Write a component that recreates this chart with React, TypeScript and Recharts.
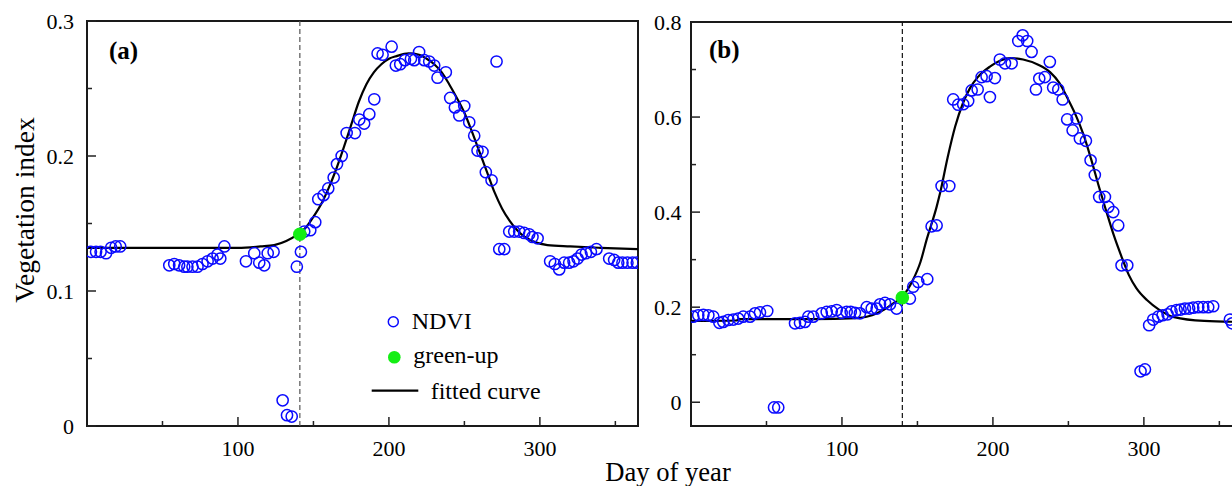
import React from 'react'
import {
  ComposedChart,
  Scatter,
  Line,
  XAxis,
  YAxis,
  ReferenceLine,
  ReferenceArea,
  Legend,
} from 'recharts'

// ---- panel (a) ----
const ndviA: [number, number][] = [
  [2.6, 0.129], [6, 0.129], [9, 0.129], [12.6, 0.128], [16, 0.132], [19, 0.133], [22, 0.133],
  [54.5, 0.119], [57.8, 0.12], [61, 0.119], [64.4, 0.118], [66.5, 0.118], [69.9, 0.118], [73.2, 0.118],
  [76.5, 0.12], [79.9, 0.122], [83.2, 0.124], [86.5, 0.127], [88.3, 0.124], [91, 0.133],
  [105.3, 0.122], [110.8, 0.128], [114.1, 0.121], [117.4, 0.119], [119.7, 0.128], [123.6, 0.129],
  [129.6, 0.019], [132.5, 0.008], [135.6, 0.007], [139, 0.118], [141.7, 0.129],
  [143.9, 0.144], [147.9, 0.145], [151.2, 0.151], [153.2, 0.168], [156.7, 0.171], [159.8, 0.176],
  [163.4, 0.184], [165.6, 0.194], [168.7, 0.2], [172, 0.217], [177.5, 0.217], [180.4, 0.227],
  [183.6, 0.224], [187, 0.231], [190.3, 0.242], [192.5, 0.276], [195.8, 0.275], [201.8, 0.281],
  [204.6, 0.267], [207.5, 0.268], [210.6, 0.271], [214.6, 0.272], [216.8, 0.271], [220, 0.277],
  [223.4, 0.271], [226.7, 0.27], [230, 0.267], [232.2, 0.258], [237.7, 0.262], [240.6, 0.243],
  [243.7, 0.236], [246.6, 0.23], [249.9, 0.237], [253.2, 0.225], [256.5, 0.215], [258.7, 0.204],
  [262, 0.203], [264.2, 0.188], [268, 0.182], [271.3, 0.27], [273.1, 0.131], [276.4, 0.131],
  [279.7, 0.144], [283, 0.144], [286.3, 0.144], [289.6, 0.143], [292.9, 0.142], [295.1, 0.14],
  [298.5, 0.139], [306.8, 0.122], [309.9, 0.12], [312.8, 0.116], [316.1, 0.121], [319.4, 0.121],
  [322.3, 0.122], [325, 0.124], [327.6, 0.127], [330.5, 0.128], [333.8, 0.129], [337.5, 0.131],
  [345.9, 0.124], [349.2, 0.123], [351.9, 0.121], [354.7, 0.121], [358, 0.121], [361.4, 0.121],
  [364.2, 0.121],
]
const fitA: [number, number][] = [
  [0, 0.132], [50, 0.132], [100, 0.132], [115, 0.133], [124, 0.134], [132, 0.137], [139.5, 0.142],
  [145, 0.147], [150, 0.155], [155, 0.164], [160, 0.176], [165, 0.19], [170, 0.206], [175, 0.223],
  [180, 0.24], [185, 0.253], [190, 0.262], [195, 0.268], [200, 0.272], [205, 0.274], [213, 0.276],
  [220, 0.275], [225, 0.272], [230, 0.268], [235, 0.262], [240, 0.253], [245, 0.243], [250, 0.232],
  [255, 0.218], [260, 0.203], [265, 0.188], [270, 0.173], [275, 0.161], [280, 0.152], [285, 0.145],
  [290, 0.14], [295, 0.137], [305, 0.134], [320, 0.133], [340, 0.132], [365, 0.131],
]
const greenUpA: [number, number][] = [[141, 0.142]]

// ---- panel (b) ----
const ndviB: [number, number][] = [
  [1.5, 0.18], [4.8, 0.183], [8.2, 0.184], [11.5, 0.183], [14.8, 0.18], [18.8, 0.167], [21.4, 0.169],
  [24.7, 0.173], [28, 0.174], [31.3, 0.176], [34.6, 0.18], [39.1, 0.18], [42.4, 0.187], [45.7, 0.189],
  [50.5, 0.192], [55, -0.011], [57.8, -0.011], [68.9, 0.166], [72.2, 0.167], [75.5, 0.169],
  [77.7, 0.18], [81, 0.18], [86.6, 0.187], [89.9, 0.19], [93.2, 0.191], [96.5, 0.194], [99.8, 0.188],
  [103.1, 0.19], [105.8, 0.19], [108.6, 0.188], [111.9, 0.187], [116.4, 0.2], [119.7, 0.197],
  [123, 0.197], [125.2, 0.206], [128.5, 0.209], [131.8, 0.206], [136.2, 0.197], [145, 0.218],
  [147.2, 0.243], [150.5, 0.253], [156.5, 0.259], [159.4, 0.37], [162.7, 0.372], [166, 0.455],
  [171.1, 0.455], [173.7, 0.637], [177, 0.626], [180.3, 0.627], [183.6, 0.634], [185.9, 0.656],
  [189.9, 0.658], [192.5, 0.684], [195.8, 0.686], [198, 0.642], [201.3, 0.682], [204.6, 0.721],
  [208, 0.713], [212.4, 0.713], [216.8, 0.76], [219.7, 0.772], [222.7, 0.76], [225.6, 0.737],
  [228.5, 0.658], [230.7, 0.681], [234.4, 0.684], [237.7, 0.716], [239.9, 0.662], [243.3, 0.658],
  [246.2, 0.637], [249.2, 0.595], [252.8, 0.572], [255.4, 0.597], [257.6, 0.555], [261.6, 0.55],
  [264.7, 0.509], [267.5, 0.478], [270.4, 0.432], [274.2, 0.432], [276.4, 0.411], [279.7, 0.4],
  [283, 0.372], [285.2, 0.288], [289, 0.288], [297.8, 0.065], [300.7, 0.069], [303.5, 0.162],
  [306.2, 0.174], [309.5, 0.18], [312.4, 0.183], [315.7, 0.185], [318.3, 0.191], [321.7, 0.194],
  [324.3, 0.195], [327.2, 0.197], [330, 0.197], [332.7, 0.199], [336, 0.2], [339.3, 0.2],
  [342.6, 0.2], [345.9, 0.202], [357, 0.174], [358.5, 0.166],
]
const fitB: [number, number][] = [
  [0, 0.171], [30, 0.172], [32, 0.175], [80, 0.175], [110, 0.177], [120, 0.183], [128, 0.195],
  [134, 0.208], [140, 0.222], [147, 0.257], [152, 0.295], [156, 0.341], [162.7, 0.411], [165, 0.44],
  [170, 0.515], [175, 0.58], [180, 0.628], [185, 0.662], [190, 0.684], [198, 0.706], [205, 0.719],
  [212, 0.724], [220, 0.721], [230, 0.71], [238, 0.694], [244, 0.672], [250, 0.636], [255, 0.603],
  [260, 0.563], [265, 0.512], [270, 0.456], [275, 0.403], [280, 0.352], [285, 0.308], [290, 0.268],
  [295, 0.24], [302, 0.215], [310, 0.195], [320, 0.179], [340, 0.171], [365, 0.169],
]
const greenUpB: [number, number][] = [[140, 0.22]]

// ---- ticks (labelled ones, plus short minor ticks) ----
const xMajor = [100, 200, 300]
const xMinor = [50, 150, 250, 350]
const yMajorA = [0, 0.1, 0.2, 0.3]
const yMinorA = [0.05, 0.15, 0.25]
const yMajorB = [0, 0.2, 0.4, 0.6, 0.8]
const yMinorB = [0.1, 0.3, 0.5, 0.7]

const FONT = '"Liberation Serif", "Times New Roman", serif'
const toRows = (arr: [number, number][]) => arr.map(([day, v]) => ({ day, v }))
const isIn = (list: number[], v: number) => list.some((m) => Math.abs(m - v) < 1e-9)

const OpenCircle = (p: any) => (
  <circle cx={p.cx} cy={p.cy} r={5.6} fill="none" stroke="#0a0aff" strokeWidth={1.5} />
)
const GreenDot = (p: any) => <circle cx={p.cx} cy={p.cy} r={6.8} fill="#14ee14" />

const LegendBox = () => (
  <svg width={200} height={110} style={{ display: 'block', fontFamily: FONT, fontSize: 24 }}>
    <circle cx={33.3} cy={21.7} r={5} fill="none" stroke="#0a0aff" strokeWidth={1.5} />
    <text x={51.7} y={29} style={{ fontFamily: FONT }}>NDVI</text>
    <circle cx={34.3} cy={57.3} r={6.3} fill="#14ee14" />
    <text x={53.3} y={63} style={{ fontFamily: FONT }}>green-up</text>
    <line x1={11.7} x2={58.3} y1={90.7} y2={90.7} stroke="#000" strokeWidth={2.2} />
    <text x={70.7} y={99} style={{ fontFamily: FONT }}>fitted curve</text>
  </svg>
)

const XTick = (props: any) => {
  const { x, y, payload } = props
  const major = isIn(xMajor, payload.value)
  return (
    <g>
      <line x1={x} x2={x} y1={y} y2={y - (major ? 9 : 5)} stroke="#222" strokeWidth={1.5} />
      {major && (
        <text x={x} y={y + 30} textAnchor="middle" fill="#000" style={{ fontFamily: FONT, fontSize: 22 }}>
          {payload.value}
        </text>
      )}
    </g>
  )
}

const makeYTick = (majors: number[], gap: number) => (props: any) => {
  const { x, y, payload } = props
  const major = isIn(majors, payload.value)
  return (
    <g>
      <line x1={x} x2={x + (major ? 9 : 5)} y1={y} y2={y} stroke="#222" strokeWidth={1.5} />
      {major && (
        <text x={x - gap} y={y + 7.8} textAnchor="end" fill="#000" style={{ fontFamily: FONT, fontSize: 22 }}>
          {String(payload.value)}
        </text>
      )}
    </g>
  )
}

interface PanelProps {
  ndvi: [number, number][]
  fit: [number, number][]
  greenUp: [number, number][]
  yDomain: [number, number]
  yMajor: number[]
  yMinor: number[]
  marginLeft: number
  marginRight: number
  marginTop: number
  labelGap: number
  dashColor: string
  legend?: boolean
}

function Panel(p: PanelProps) {
  const yTicks = [...p.yMajor, ...p.yMinor].sort((a, b) => a - b)
  const xTicks = [...xMajor, ...xMinor].sort((a, b) => a - b)
  return (
    <ComposedChart
      width={660}
      height={486}
      margin={{ top: p.marginTop, right: p.marginRight, bottom: 59, left: p.marginLeft - 1 }}
    >
      <XAxis
        dataKey="day"
        type="number"
        domain={[0, 365]}
        allowDataOverflow
        ticks={xTicks}
        interval={0}
        height={1}
        axisLine={false}
        tickLine={false}
        tickSize={0}
        tickMargin={0}
        tick={XTick}
      />
      <YAxis
        type="number"
        domain={p.yDomain}
        allowDataOverflow
        ticks={yTicks}
        interval={0}
        width={1}
        axisLine={false}
        tickLine={false}
        tickSize={0}
        tickMargin={0}
        tick={makeYTick(p.yMajor, p.labelGap)}
      />
      <ReferenceArea
        x1={0}
        x2={365}
        y1={p.yDomain[0]}
        y2={p.yDomain[1]}
        fill="none"
        fillOpacity={0}
        stroke="#1a1a1a"
        strokeWidth={2}
      />
      <ReferenceLine x={p.greenUp[0][0]} stroke={p.dashColor} strokeWidth={1.2} strokeDasharray="5 3" />
      <Scatter data={toRows(p.ndvi)} dataKey="v" shape={OpenCircle} isAnimationActive={false} />
      <Line
        data={toRows(p.fit)}
        dataKey="v"
        type="monotone"
        stroke="#000"
        strokeWidth={2.2}
        dot={false}
        activeDot={false}
        isAnimationActive={false}
      />
      <Scatter data={toRows(p.greenUp)} dataKey="v" shape={GreenDot} isAnimationActive={false} />
      {p.legend && (
        <Legend
          layout="vertical"
          align="center"
          verticalAlign="middle"
          content={() => <LegendBox />}
          wrapperStyle={{ position: 'absolute', left: 360, top: 300, width: 200, height: 110 }}
        />
      )}
    </ComposedChart>
  )
}

export default function App() {
  return (
    <div
      style={{
        position: 'absolute',
        left: 0,
        top: 0,
        width: 1232,
        height: 486,
        overflow: 'hidden',
        background: '#fff',
      }}
    >
      <div style={{ position: 'absolute', left: 0, top: 0 }}>
        <Panel
          ndvi={ndviA}
          fit={fitA}
          greenUp={greenUpA}
          yDomain={[0, 0.3]}
          yMajor={yMajorA}
          yMinor={yMinorA}
          marginLeft={87}
          marginRight={22}
          marginTop={21}
          labelGap={13}
          dashColor="#555"
          legend
        />
      </div>
      <div style={{ position: 'absolute', left: 620, top: 0 }}>
        <Panel
          ndvi={ndviB}
          fit={fitB}
          greenUp={greenUpB}
          yDomain={[-0.05, 0.8]}
          yMajor={yMajorB}
          yMinor={yMinorB}
          marginLeft={71}
          marginRight={38}
          marginTop={22}
          labelGap={9.5}
          dashColor="#111"
        />
      </div>
      <svg
        width={1232}
        height={486}
        style={{ position: 'absolute', left: 0, top: 0, pointerEvents: 'none' }}
      >
        <text
          transform="translate(34,210) rotate(-90)"
          textAnchor="middle"
          style={{ fontFamily: FONT, fontSize: 27.5 }}
        >
          Vegetation index
        </text>
        <text x={668} y={481} textAnchor="middle" style={{ fontFamily: FONT, fontSize: 26.6 }}>
          Day of year
        </text>
        <text x={109} y={59} style={{ fontFamily: FONT, fontSize: 25, fontWeight: 'bold' }}>(a)</text>
        <text x={709} y={58} style={{ fontFamily: FONT, fontSize: 25, fontWeight: 'bold' }}>(b)</text>
      </svg>
    </div>
  )
}
